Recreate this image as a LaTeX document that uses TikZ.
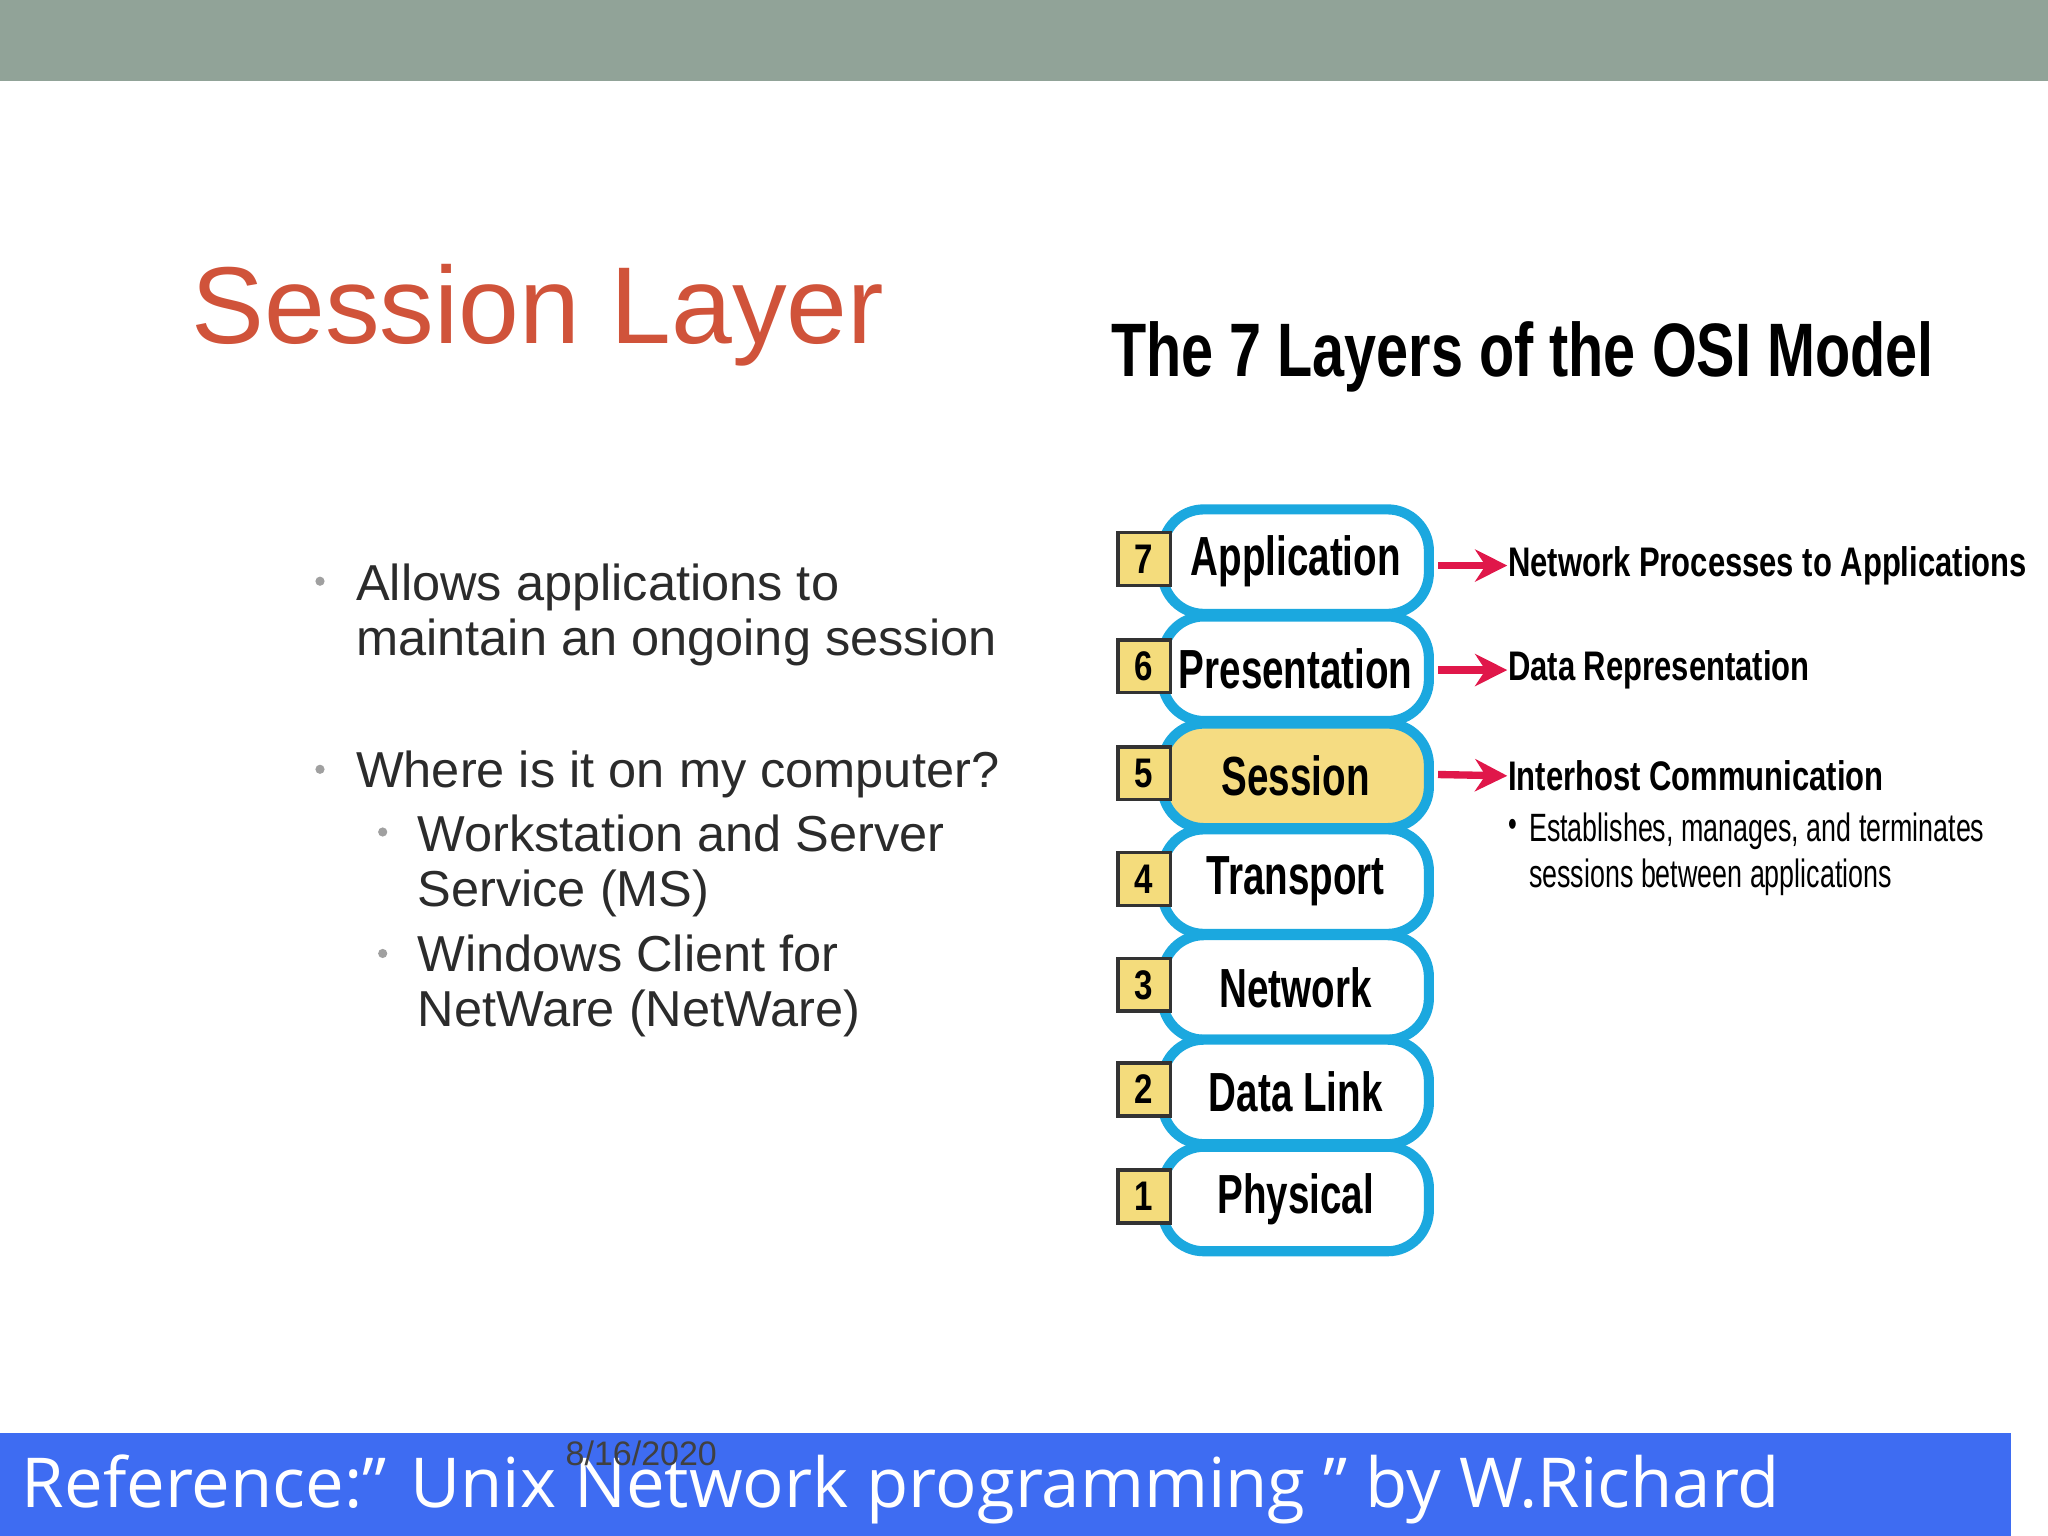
\documentclass[tikz,border=0pt]{standalone}
\usepackage{fontspec}
\setmainfont{Liberation Sans}
\newfontfamily\footfont{Open Sans}
\definecolor{topbar}{HTML}{91A398}
\definecolor{titlered}{HTML}{D0533A}
\definecolor{txt}{HTML}{2B2B2B}
\definecolor{bul}{HTML}{A0A0A0}
\definecolor{cyanb}{HTML}{1BA8DF}
\definecolor{sessfill}{HTML}{F5DC82}
\definecolor{numfill}{HTML}{F4DC7C}
\definecolor{arrred}{HTML}{E0174A}
\definecolor{footblue}{HTML}{3E6CF2}
\usetikzlibrary{arrows.meta}
\tikzset{
 layerbox/.style={draw=cyanb,line width=2.2pt,rounded corners=9pt,fill=white},
 numbox/.style={draw=black!80,line width=0.8pt,fill=numfill,minimum width=11.5pt,minimum height=11.5pt,inner sep=0pt,font=\bfseries\fontsize{9}{9}\selectfont},
 lname/.style={font=\bfseries\fontsize{12}{12}\selectfont},
 rlabel/.style={anchor=west,inner sep=0,font=\bfseries\fontsize{9}{9}\selectfont},
 redarr/.style={draw=arrred,line width=1.6pt,-{Stealth[length=7pt,width=7pt]}},
 bullettext/.style={anchor=north west,align=left,text=txt,font=\fontsize{11}{12}\selectfont},
 dot/.style={circle,fill=bul,inner sep=0pt,minimum size=2pt}
}
\newcommand{\nrw}[1]{\scalebox{0.7}[1]{#1}}
\newcommand{\nrwb}[1]{\scalebox{0.75}[1]{#1}}
\newcommand{\nrwc}[1]{\scalebox{0.68}[1]{#1}}
\begin{document}
\begin{tikzpicture}[x=0.01cm,y=-0.01cm]
\useasboundingbox (0,0) rectangle (1568,1176);
\fill[topbar] (0,0) rectangle (1568,62);
\node[anchor=west,text=titlered,font=\fontsize{23.8}{23.8}\selectfont,inner sep=0] (title) at (146,241) {Session Layer};
% bullets
\node[dot] (d1) at (245,445) {};
\node[bullettext,inner sep=0] (b1) at (272,431) {Allows applications to\\maintain an ongoing session};
\node[dot] (d2) at (245,589) {};
\node[bullettext,inner sep=0] (b2) at (272,574) {Where is it on my computer?};
\node[dot] (d3) at (293,637) {};
\node[bullettext,inner sep=0] (b3) at (319,623) {Workstation and Server\\Service (MS)};
\node[dot] (d4) at (293,730) {};
\node[bullettext,inner sep=0] (b4) at (319,715) {Windows Client for\\NetWare (NetWare)};
% OSI title
\node[anchor=west,inner sep=0,font=\bfseries\fontsize{16.5}{16.5}\selectfont] (osi) at (850,273) {\scalebox{0.76}[1]{The 7 Layers of the OSI Model}};
% layers
\foreach \n/\name/\y in {7/Application/430,6/Presentation/512,5/Session/594,4/Transport/675,3/Network/756,2/Data Link/836,1/Physical/918}{
  \ifnum\n=5
   \draw[layerbox,fill=sessfill] (890,\y-40) rectangle (1094,\y+40);
  \else
   \draw[layerbox] (890,\y-40) rectangle (1094,\y+40);
  \fi
  \node[lname] (L\n) at (992,\y) {\nrw{\name}};
  \node[numbox] (N\n) at (876,\y-2) {\scalebox{0.8}[1]{\n}};
}
% arrows & labels
\node[rlabel] (r7) at (1154,433) {\nrwb{Network Processes to Applications}};
\node[rlabel] (r6) at (1154,513) {\nrwb{Data Representation}};
\node[rlabel] (r5) at (1154,594) {\nrwb{Interhost Communication}};
\coordinate (a7) at (1101,433);
\coordinate (a6) at (1101,513);
\coordinate (a5) at (1101,593);
\draw[redarr] (a7) -- (r7.west);
\draw[redarr] (a6) -- (r6.west);
\draw[redarr] (a5) -- (r5.west);
\node[anchor=west,inner sep=0,font=\fontsize{8}{8}\selectfont] (e1) at (1154,634) {\nrwc{\textbullet}};
\node[anchor=north west,inner sep=0,align=left,font=\fontsize{8.6}{10}\selectfont] (e2) at (1170,622) {\nrwc{Establishes, manages, and terminates}\\\nrwc{sessions between applications}};
% footer
\fill[footblue] (0,1097) rectangle (1540,1176);
\node[anchor=west,inner sep=0,text=white,font=\footfont\fontsize{15}{15}\selectfont] (ref) at (16,1140) {Reference:” Unix Network programming ” by W.Richard};
\node[inner sep=0,text=black!75,font=\fontsize{7.4}{7.4}\selectfont] (date) at (491,1113) {8/16/2020};
\end{tikzpicture}
\end{document}
